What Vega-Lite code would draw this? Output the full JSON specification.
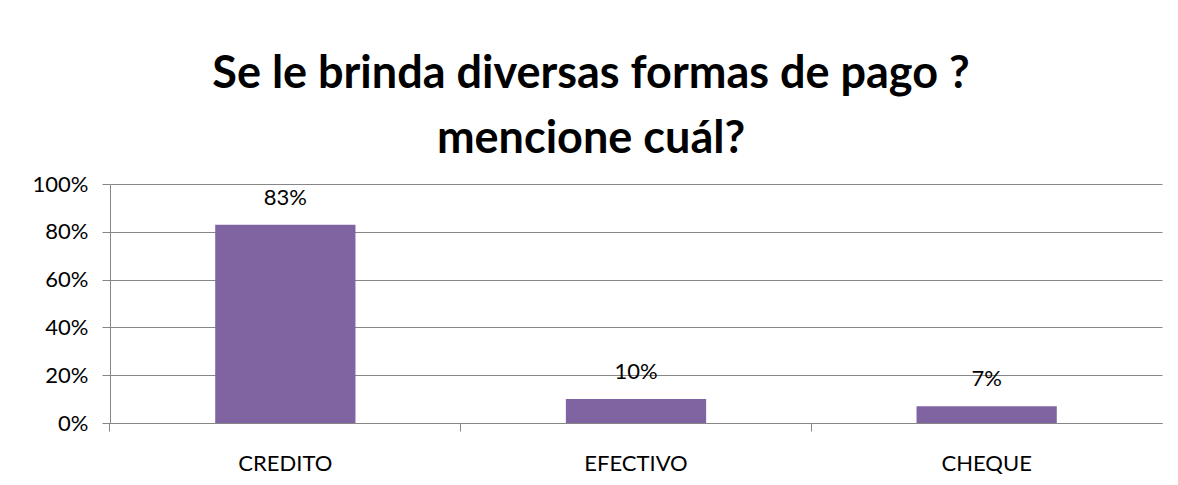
{
  "$schema": "https://vega.github.io/schema/vega-lite/v6.json",
  "width": 1052,
  "height": 239,
  "autosize": {"type": "none"},
  "padding": {"left": 110, "top": 184, "right": 16, "bottom": 62},
  "background": "white",
  "config": {"view": {"stroke": null}, "font": "Lato"},
  "title": {
    "text": ["Se le brinda diversas formas de pago ?", "mencione cuál?"],
    "fontSize": 45,
    "fontWeight": "bold",
    "font": "Lato",
    "color": "#000000",
    "anchor": "middle",
    "dx": -45,
    "offset": 11,
    "lineHeight": 65
  },
  "data": {
    "values": [
      {"forma": "CREDITO", "pct": 0.83},
      {"forma": "EFECTIVO", "pct": 0.10},
      {"forma": "CHEQUE", "pct": 0.07}
    ]
  },
  "encoding": {
    "x": {
      "field": "forma",
      "type": "nominal",
      "sort": null,
      "scale": {"paddingInner": 0.6, "paddingOuter": 0.3},
      "axis": {
        "title": null,
        "labelAngle": 0,
        "labelFontSize": 22,
        "labelColor": "#000000",
        "labelPadding": 22,
        "domainColor": "#868686",
        "tickColor": "#868686",
        "tickSize": 8,
        "bandPosition": -0.75
      }
    },
    "y": {
      "field": "pct",
      "type": "quantitative",
      "scale": {"domain": [0, 1]},
      "axis": {
        "title": null,
        "format": ".0%",
        "values": [0, 0.2, 0.4, 0.6, 0.8, 1],
        "labelFontSize": 22,
        "labelColor": "#000000",
        "labelPadding": 14,
        "gridColor": "#868686",
        "domainColor": "#868686",
        "tickColor": "#868686",
        "tickSize": 8
      }
    }
  },
  "layer": [
    {"mark": {"type": "bar", "color": "#8064A2"}},
    {
      "mark": {"type": "text", "baseline": "bottom", "dy": -15, "fontSize": 22, "color": "#000000"},
      "encoding": {"text": {"field": "pct", "type": "quantitative", "format": ".0%"}}
    }
  ]
}
